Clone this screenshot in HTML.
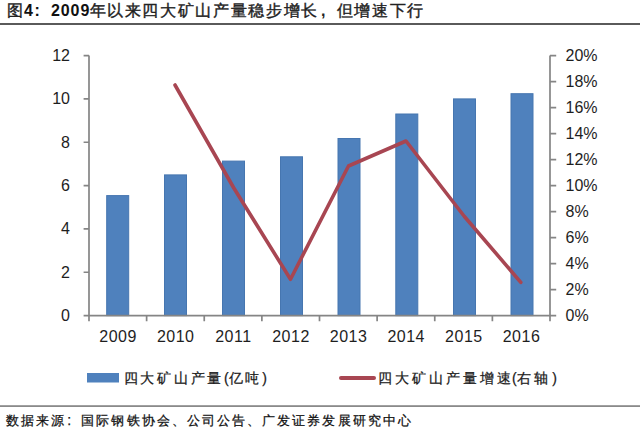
<!DOCTYPE html>
<html><head><meta charset="utf-8">
<style>
html,body{margin:0;padding:0;background:#fff;}
body{width:640px;height:428px;position:relative;overflow:hidden;font-family:"Liberation Sans",sans-serif;color:#000;}
.t{position:absolute;white-space:nowrap;line-height:1;}
svg{position:absolute;left:0;top:0;}
.n{font-size:16px;color:#1e1e1e;}
.r{text-align:right;width:70px;left:0;}
.c{text-align:center;width:60px;}
.p{letter-spacing:0;}
</style></head><body>

<div class="t" style="left:7px;top:3px;font-size:16px;color:#222;font-weight:normal;-webkit-text-stroke:0.4px #222">图</div>
<div class="t" style="left:24px;top:3px;font-size:16px;color:#111;font-weight:bold">4</div>
<div class="t" style="left:34.5px;top:3px;font-size:16px;color:#111;font-weight:bold">:</div>
<div class="t" style="left:51px;top:3px;font-size:16px;color:#111;font-weight:bold;letter-spacing:0.9px">2009</div>
<div class="t" id="title" style="left:89.5px;top:3px;font-size:16px;color:#1a1a1a;letter-spacing:1.66px;font-weight:normal;-webkit-text-stroke:0.4px #222;color:#222">年以来四大矿山产量稳步增长<span style="display:inline-block;width:17.66px;letter-spacing:0;text-indent:2px;font-weight:bold;-webkit-text-stroke:0">,</span>但增速下行</div>
<svg width="640" height="428" viewBox="0 0 640 428">
<rect x="0" y="23" width="640" height="2" fill="#5a5a5a"/>
<rect x="0" y="405.2" width="640" height="1.8" fill="#8a8a8a"/>
<g fill="#4F81BD" stroke="#4676B0" stroke-width="1">
<rect x="106.7" y="195.6" width="22" height="120.0"/>
<rect x="164.5" y="174.9" width="22" height="140.7"/>
<rect x="222.5" y="161.1" width="22" height="154.5"/>
<rect x="280.5" y="156.8" width="22" height="158.8"/>
<rect x="338.0" y="138.5" width="22" height="177.1"/>
<rect x="395.8" y="114.0" width="22" height="201.6"/>
<rect x="453.5" y="98.9" width="22" height="216.7"/>
<rect x="511.0" y="93.7" width="22" height="221.9"/>
</g>
<path d="M89 55.6V321.2M550 55.6V321.2M83.6 315.6H556.2M83.6 272.27H89M83.6 228.93H89M83.6 185.60H89M83.6 142.27H89M83.6 98.93H89M83.6 55.60H89M550 289.60H556.2M550 263.60H556.2M550 237.60H556.2M550 211.60H556.2M550 185.60H556.2M550 159.60H556.2M550 133.60H556.2M550 107.60H556.2M550 81.60H556.2M550 55.60H556.2M146.62 315.6V321.2M204.25 315.6V321.2M261.88 315.6V321.2M319.50 315.6V321.2M377.12 315.6V321.2M434.75 315.6V321.2M492.38 315.6V321.2" stroke="#858585" stroke-width="1.7" fill="none"/>
<polyline points="175,85 233.5,187.5 290.5,279.3 348.5,166 406,141 464.4,216.5 520.8,282.3" fill="none" stroke="#A84652" stroke-width="3.6" stroke-linejoin="round" stroke-linecap="round"/>
<rect x="87" y="373" width="32" height="9.5" fill="#4F81BD"/>
<line x1="341" y1="378" x2="374" y2="378" stroke="#A84652" stroke-width="4" stroke-linecap="round"/>
</svg>
<div class="t n r" style="top:308.0px">0</div>
<div class="t n r" style="top:264.7px">2</div>
<div class="t n r" style="top:221.3px">4</div>
<div class="t n r" style="top:178.0px">6</div>
<div class="t n r" style="top:134.7px">8</div>
<div class="t n r" style="top:91.3px">10</div>
<div class="t n r" style="top:48.0px">12</div>
<div class="t n" style="left:565.5px;top:308.0px">0%</div>
<div class="t n" style="left:565.5px;top:282.0px">2%</div>
<div class="t n" style="left:565.5px;top:256.0px">4%</div>
<div class="t n" style="left:565.5px;top:230.0px">6%</div>
<div class="t n" style="left:565.5px;top:204.0px">8%</div>
<div class="t n" style="left:565.5px;top:178.0px">10%</div>
<div class="t n" style="left:565.5px;top:152.0px">12%</div>
<div class="t n" style="left:565.5px;top:126.0px">14%</div>
<div class="t n" style="left:565.5px;top:100.0px">16%</div>
<div class="t n" style="left:565.5px;top:74.0px">18%</div>
<div class="t n" style="left:565.5px;top:48.0px">20%</div>
<div class="t n c" style="left:88.1px;top:328.5px;letter-spacing:0.5px">2009</div>
<div class="t n c" style="left:145.7px;top:328.5px;letter-spacing:0.5px">2010</div>
<div class="t n c" style="left:203.4px;top:328.5px;letter-spacing:0.5px">2011</div>
<div class="t n c" style="left:261.0px;top:328.5px;letter-spacing:0.5px">2012</div>
<div class="t n c" style="left:318.6px;top:328.5px;letter-spacing:0.5px">2013</div>
<div class="t n c" style="left:376.2px;top:328.5px;letter-spacing:0.5px">2014</div>
<div class="t n c" style="left:433.9px;top:328.5px;letter-spacing:0.5px">2015</div>
<div class="t n c" style="left:491.5px;top:328.5px;letter-spacing:0.5px">2016</div>
<div class="t" id="lg1" style="left:123.5px;top:371px;font-size:14px;color:#1a1a1a;letter-spacing:2.75px;-webkit-text-stroke:0.25px #1a1a1a;">四大矿山产量<span class="p" style="font-size:14px;margin-left:0px">(</span>亿吨<span class="p" style="font-size:14px;margin-left:0px">)</span></div>
<div class="t" id="lg2" style="left:378px;top:371px;font-size:14px;color:#1a1a1a;letter-spacing:2.95px;-webkit-text-stroke:0.25px #1a1a1a;">四大矿山产量增速<span class="p" style="font-size:14px;margin-left:-1.5px">(</span>右轴<span class="p" style="font-size:14px;margin-left:1.5px">)</span></div>
<div class="t" id="src" style="left:6px;top:413px;font-size:13px;color:#111;letter-spacing:2.07px;-webkit-text-stroke:0.25px #111;">数据来源<span style="display:inline-block;width:15.07px;letter-spacing:0;font-family:'Liberation Sans';font-size:14px;text-indent:1px">:</span>国际钢铁协会、公司公告、广发证券发展研究中心</div>
</body></html>
